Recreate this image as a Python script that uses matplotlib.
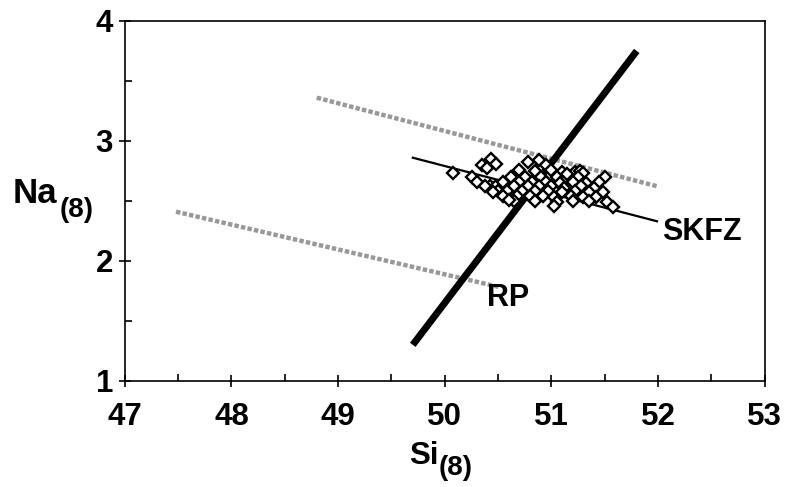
import matplotlib.pyplot as plt
import numpy as np

plt.rcParams['font.family'] = ['Liberation Sans', 'DejaVu Sans']
plt.rcParams['font.weight'] = 'bold'

# RP trend (thick black), SKFZ trend (thin black), two grey reference lines
rp_x = [49.7, 51.8]
rp_y = [1.3, 3.75]
skfz_x = [49.7, 51.99]
skfz_y = [2.86, 2.33]
grey_upper_x = [48.8, 52.0]
grey_upper_y = [3.36, 2.62]
grey_lower_x = [47.48, 50.52]
grey_lower_y = [2.41, 1.78]

# SKFZ glass samples
si8 = [50.08, 50.26, 50.30, 50.35, 50.43, 50.40, 50.48,
       50.42, 50.48, 50.78, 50.88, 50.95,
       50.70, 50.85, 51.00, 51.10, 51.22, 51.27, 51.30,
       50.62, 50.75, 50.90, 51.05, 51.15, 51.25, 51.50,
       50.55, 50.70, 50.82, 50.95, 51.08, 51.20, 51.32, 51.45,
       50.38, 50.50, 50.65, 50.78, 50.88, 51.00, 51.12, 51.28, 51.40,
       50.45, 50.58, 50.72, 50.85, 50.97, 51.10, 51.22, 51.35, 51.48,
       50.55, 50.68, 50.80, 50.92, 51.02, 51.18, 51.30, 51.42,
       50.65, 50.85, 51.05, 51.20, 51.35, 51.52,
       51.02, 51.58, 50.60, 51.15]
na8 = [2.73, 2.70, 2.66, 2.80, 2.85, 2.77, 2.81,
       2.62, 2.62, 2.82, 2.84, 2.80,
       2.76, 2.75, 2.76, 2.74, 2.74, 2.75, 2.73,
       2.70, 2.70, 2.70, 2.70, 2.69, 2.70, 2.70,
       2.66, 2.66, 2.66, 2.66, 2.65, 2.66, 2.65, 2.66,
       2.62, 2.58, 2.62, 2.62, 2.62, 2.62, 2.61, 2.62, 2.61,
       2.57, 2.58, 2.58, 2.58, 2.58, 2.57, 2.58, 2.57, 2.57,
       2.54, 2.54, 2.54, 2.54, 2.53, 2.54, 2.53, 2.53,
       2.50, 2.50, 2.49, 2.50, 2.50, 2.49,
       2.46, 2.45, 2.51, 2.72]

fig = plt.figure(figsize=(7.9, 4.87), dpi=100)
ax = fig.add_axes([0.158, 0.218, 0.81, 0.739])

ax.plot(grey_upper_x, grey_upper_y, color='0.6', lw=3.2, ls=(0, (1, 0.5)))
ax.plot(grey_lower_x, grey_lower_y, color='0.6', lw=3.2, ls=(0, (1, 0.5)))
ax.plot(skfz_x, skfz_y, color='black', lw=1.6)
ax.plot(rp_x, rp_y, color='black', lw=5, solid_capstyle='butt')
ax.plot(si8, na8, ls='none', marker='D', ms=6.5, mfc='white', mec='black', mew=1.7)

ax.text(52.04, 2.24, 'SKFZ', fontsize=22, fontweight='bold', va='center', ha='left')
ax.text(50.40, 1.69, 'RP', fontsize=22, fontweight='bold', va='center', ha='left')

ax.set_xlim(47, 53)
ax.set_ylim(1, 4)
ax.set_xticks(np.arange(47, 54, 1))
ax.set_yticks(np.arange(1, 5, 1))
ax.set_xticks(np.arange(47.5, 53, 1), minor=True)
ax.set_yticks(np.arange(1.5, 4, 1), minor=True)
ax.tick_params(which='major', direction='inout', length=9, width=1.2, labelsize=22.5)
ax.tick_params(axis='x', which='major', pad=11)
ax.tick_params(axis='y', which='major', pad=4)
ax.tick_params(which='minor', direction='in', length=5, width=1.2)
for lab in ax.get_xticklabels() + ax.get_yticklabels():
    lab.set_fontweight('bold')
for sp in ax.spines.values():
    sp.set_linewidth(1.2)

fig.text(0.016, 0.602, 'Na', fontsize=25, fontweight='bold', va='center', ha='left')
fig.text(0.075, 0.569, '(8)', fontsize=20, fontweight='bold', va='center', ha='left')
fig.text(0.518, 0.064, 'Si', fontsize=22.5, fontweight='bold', va='center', ha='left')
fig.text(0.555, 0.039, '(8)', fontsize=20, fontweight='bold', va='center', ha='left')

fig.savefig('out.png', dpi=100)
